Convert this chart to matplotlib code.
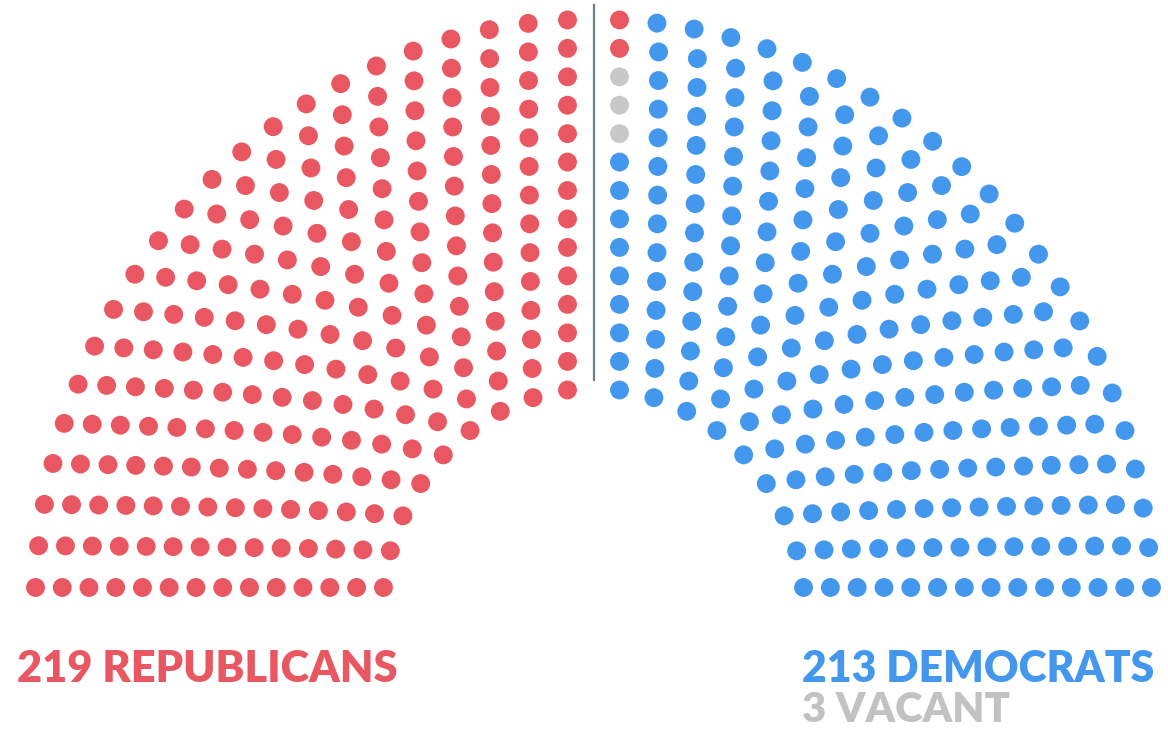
import numpy as np
import matplotlib
matplotlib.use("Agg")
import matplotlib.pyplot as plt

# ---------------- data ----------------
party_names = ["REPUBLICANS", "VACANT", "DEMOCRATS"]
party_seats = [219, 3, 213]
party_colors = ["#E95862", "#C8C8C8", "#4398EE"]

# seats per ring, outer ring first (left half / right half of the arch)
left_ring_seats = [22, 21, 20, 19, 18, 17, 16, 15, 14, 13, 12, 11, 10, 9]
right_ring_seats = [23, 21, 20, 19, 18, 17, 16, 15, 14, 13, 12, 11, 10, 9]

# ---------------- layout ----------------
W, H = 1168, 731
fig = plt.figure(figsize=(W / 100, H / 100), dpi=100)
ax = fig.add_axes([0, 0, 1, 1])
ax.set_xlim(0, W)
ax.set_ylim(H, 0)
ax.axis("off")

cx, cy = 593.5, 613.0
sy = 1.063
r_outer, ring_step = 558.5, 26.7
side_gap, bottom_gap = 26.0, 24.0

xs, ys, alphas, rads = [], [], [], []
for k in range(len(left_ring_seats)):
    r = r_outer - ring_step * k
    t0 = np.arcsin(bottom_gap / r)
    t1 = np.arccos(side_gap / r)
    for side, m in ((-1, left_ring_seats[k]), (1, right_ring_seats[k])):
        th = np.linspace(t0, t1, m)
        xs.extend(cx + side * r * np.cos(th))
        ys.extend(cy - sy * r * np.sin(th))
        alphas.extend(th if side < 0 else np.pi - th)
        rads.extend([r] * m)

xs = np.array(xs); ys = np.array(ys)
order = np.lexsort((-np.array(rads), np.array(alphas)))
colors = []
for name, n, c in zip(party_names, party_seats, party_colors):
    colors.extend([c] * n)
colors = colors[:len(order)]
while len(colors) < len(order):
    colors.append(party_colors[-1])

ax.scatter(xs[order], ys[order], s=185, c=colors, linewidths=0, zorder=3)

# divider line
ax.plot([594, 594], [5, 380], color="#6E7B80", lw=1.6, zorder=2)

# ---------------- labels ----------------
fam = ["Lato", "DejaVu Sans"]
fig.canvas.draw()
renderer = fig.canvas.get_renderer()


def fit_text(x, y, s, color, target_w):
    t = ax.text(x, y, s, color=color, fontsize=30, fontweight="heavy",
                family=fam, ha="left", va="baseline")
    bb = t.get_window_extent(renderer)
    t.set_fontsize(30 * target_w / bb.width)
    return t


fit_text(17, 682, f"{party_seats[0]} {party_names[0]}", party_colors[0], 380)
fit_text(802, 682, f"{party_seats[2]} {party_names[2]}", party_colors[2], 352)
fit_text(802, 722, f"{party_seats[1]} {party_names[1]}", "#C2C2C2", 208)

fig.savefig("out.png", dpi=100, facecolor="white")
